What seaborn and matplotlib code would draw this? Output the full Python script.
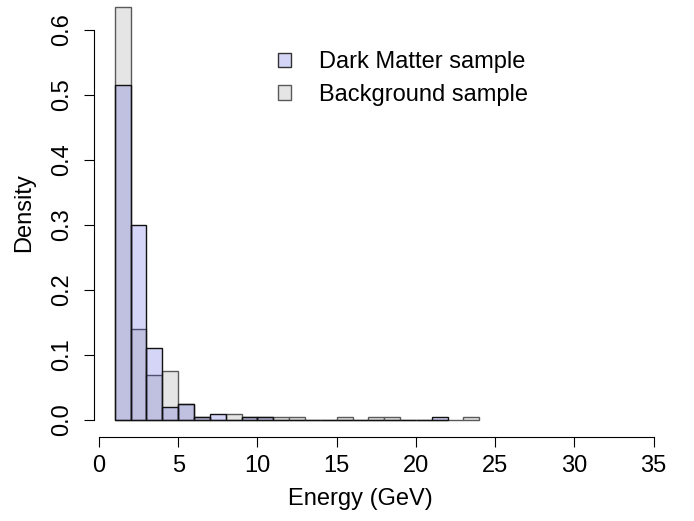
import numpy as np
import pandas as pd
import seaborn as sns
import matplotlib.pyplot as plt
from matplotlib.patches import Patch

# Histogram densities (bins of width 1 GeV)
dm_edges = list(range(1, 23))
dm_density = [0.515, 0.30, 0.11, 0.02, 0.025, 0.005, 0.01, 0.0, 0.005, 0.005,
              0.0, 0.0, 0.0, 0.0, 0.0, 0.0, 0.0, 0.0, 0.0, 0.0, 0.005]

bg_edges = list(range(1, 25))
bg_density = [0.635, 0.14, 0.07, 0.075, 0.025, 0.005, 0.0, 0.01, 0.005, 0.005,
              0.005, 0.005, 0.0, 0.0, 0.005, 0.0, 0.005, 0.005, 0.0, 0.0,
              0.0, 0.0, 0.005]

legend_labels = ["Dark Matter sample", "Background sample"]
x_ticks = [0, 5, 10, 15, 20, 25, 30, 35]
y_ticks = [0.0, 0.1, 0.2, 0.3, 0.4, 0.5, 0.6]

dm = pd.DataFrame({"energy": np.array(dm_edges[:-1]) + 0.5, "density": dm_density})
bg = pd.DataFrame({"energy": np.array(bg_edges[:-1]) + 0.5, "density": bg_density})

sns.set_style("ticks")
plt.rcParams['font.family'] = ['Liberation Sans', 'DejaVu Sans']
plt.rcParams.update({"text.color": "black", "axes.labelcolor": "black",
                     "xtick.color": "black", "ytick.color": "black"})

BG_FILL = "#e5e5e5"
BG_EDGE = "#5a5a5a"
DM_FILL = (34 / 255, 34 / 255, 213 / 255, 0.19)
DM_EDGE = "#111111"

fig = plt.figure(figsize=(6.94, 5.21), dpi=100)
ax = fig.add_axes([0.1357, 0.1614, 0.829, 0.841])

# background first, dark matter on top (transparent)
sns.histplot(data=bg, x="energy", weights="density", bins=bg_edges, stat="count",
             ax=ax, linewidth=1.0)
for p in ax.containers[-1]:
    p.set_alpha(None)
    p.set_facecolor(BG_FILL)
    p.set_edgecolor(BG_EDGE)

sns.histplot(data=dm, x="energy", weights="density", bins=dm_edges, stat="count",
             ax=ax, linewidth=1.0)
for p in ax.containers[-1]:
    p.set_alpha(None)
    p.set_facecolor(DM_FILL)
    p.set_edgecolor(DM_EDGE)

ax.set_xlim(-0.3, 36.0)
ax.set_ylim(-0.026, 0.648)

sns.despine(ax=ax)
ax.spines['bottom'].set_bounds(0, 35)
ax.spines['left'].set_bounds(0, 0.6)
for s in ['bottom', 'left']:
    ax.spines[s].set_linewidth(0.8)
    ax.spines[s].set_color("black")

ax.set_xticks(x_ticks)
ax.set_xticklabels([str(t) for t in x_ticks])
ax.set_yticks(y_ticks)
ax.set_yticklabels([f"{t:.1f}" for t in y_ticks])
ax.tick_params(axis='both', length=7.2, width=0.8, color="black",
               labelcolor="black", labelsize=17)
ax.tick_params(axis='x', pad=6)
ax.tick_params(axis='y', pad=8, labelrotation=90)
for lab in ax.get_yticklabels():
    lab.set_va('center')

ax.set_xlabel("Energy (GeV)", fontsize=17, va='center', color="black")
ax.xaxis.set_label_coords(0.462, -0.141)
ax.set_ylabel("Density", fontsize=17, va='center', color="black")
ax.yaxis.set_label_coords(-0.122, 0.513)

handles = [Patch(facecolor=DM_FILL, edgecolor="#333333", linewidth=1.0),
           Patch(facecolor=BG_FILL, edgecolor=BG_EDGE, linewidth=1.0)]
leg = ax.legend(handles, legend_labels, loc='upper left',
                bbox_to_anchor=(278 / 694, 1 - 51 / 521), bbox_transform=fig.transFigure,
                frameon=False, fontsize=17, handlelength=0.55, handleheight=0.55,
                handletextpad=1.2, borderpad=0, borderaxespad=0, labelspacing=0.46)
for t in leg.get_texts():
    t.set_color("black")

fig.savefig("out.png", dpi=100)
